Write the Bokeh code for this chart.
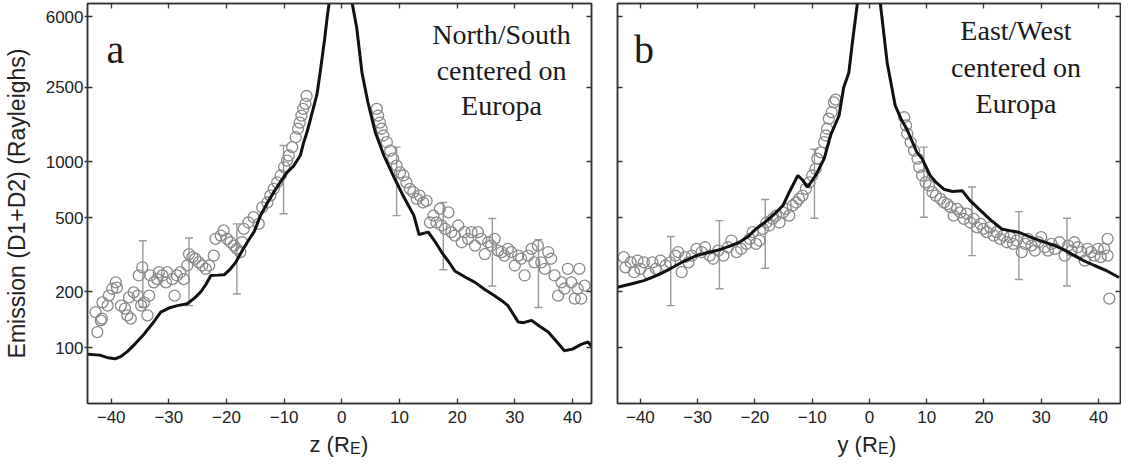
from bokeh.plotting import figure
from bokeh.models import (FixedTicker, NumeralTickFormatter, LogAxis, LinearAxis,
                          Label, Whisker, TeeHead, ColumnDataSource, Range1d,
                          CustomJSTickFormatter)
from bokeh.core.properties import value
from bokeh.layouts import row, column
from bokeh.embed import file_html
from bokeh.resources import INLINE

Y_TICKS = [100, 200, 500, 1000, 2500, 6000]
X_TICKS = [-40, -30, -20, -10, 0, 10, 20, 30, 40]

# ---------------- Panel a: North/South (z) ----------------
A_circ_z = [-42.4, -42.7, -41.8, -41.5, -41.6, -40.6, -40.4, -39.8, -39.2, -39.0, -38.3, -37.6,
            -37.2, -36.6, -36.9, -36.1, -35.4, -35.2, -34.6, -34.8, -34.3, -33.7, -33.4, -33.2,
            -32.6, -32.0, -31.7, -31.1, -30.5, -30.3, -29.4, -29.0, -28.6, -28.0, -27.4, -26.8,
            -26.5, -25.9, -25.4, -24.8, -24.2, -23.6, -23.0, -22.2, -21.9, -21.0, -20.5, -19.9,
            -19.3, -18.7, -18.2, -17.6, -17.3, -17.0, -16.2, -15.3, -14.4, -13.8, -12.9, -12.4,
            -11.8, -11.2, -10.6, -10.0, -9.5, -9.2, -8.6, -8.0, -7.6, -7.3, -7.0, -6.7, -6.3, -6.1,
            6.06, 6.3, 6.6, 6.9, 7.2, 7.8, 8.4, 8.9, 9.5, 10.1, 10.7, 11.2, 11.8, 12.4, 13.0, 13.5,
            14.1, 14.7, 15.3, 15.9, 16.4, 17.0, 17.3, 17.9, 18.5, 19.0, 19.6, 20.2, 20.8, 21.3,
            21.9, 22.5, 23.1, 23.6, 24.2, 24.8, 25.4, 25.9, 26.5, 27.1, 27.7, 28.2, 28.8, 29.4,
            30.0, 30.6, 31.1, 31.7, 32.3, 32.9, 33.4, 34.0, 34.6, 35.2, 35.8, 36.3, 36.9, 37.5,
            38.1, 38.6, 39.2, 39.8, 40.4, 40.9, 41.2, 41.5, 42.1]
A_circ_v = [121, 155, 140, 175, 143, 168, 190, 207, 224, 210, 168, 162,
            149, 143, 186, 198, 190, 244, 270, 168, 175, 149, 190, 244,
            224, 233, 254, 244, 224, 254, 233, 190, 244, 254, 233, 276,
            318, 306, 300, 287, 276, 265, 276, 312, 384, 400, 426, 384,
            368, 353, 339, 326, 368, 434, 470, 502, 462, 567, 602, 656,
            713, 773, 841, 934, 1012, 1077, 1195, 1350, 1500, 1620, 1767, 1920, 2040, 2250,
            1920, 1767, 1620, 1500, 1380, 1270, 1144, 1036, 951, 874, 841, 773, 713, 684, 630, 656,
            602, 615, 470, 512, 470, 556, 453, 434, 533, 417, 400, 453, 368, 417,
            384, 417, 353, 417, 384, 318, 368, 353, 384, 332, 326, 312, 339, 326,
            276, 312, 300, 244, 312, 339, 287, 353, 287, 265, 326, 300, 244, 190,
            224, 207, 265, 224, 183, 207, 265, 183, 215]

A_line_z = [-44.0, -42.0, -40.5, -39.3, -38.2, -37.2, -35.8, -34.3, -32.8, -31.4, -30.0, -28.5,
            -26.8, -25.5, -24.4, -23.5, -22.7, -21.5, -20.4, -19.3, -18.4, -17.3, -16.4, -15.2,
            -14.1, -12.9, -11.8, -10.6, -9.5, -8.3, -7.2, -6.6, -6.0, -5.0, -4.3, -3.7, -3.0,
            -2.5, -2.2, 0.0, 1.8, 2.6, 3.5, 4.5, 5.8, 7.3, 9.2, 10.8, 12.5, 13.4, 15.0, 16.2,
            17.3, 18.5, 19.6, 21.3, 23.1, 24.8, 26.5, 27.8, 28.8, 30.6, 31.5, 32.9, 34.3, 35.8,
            37.2, 38.6, 40.0, 41.5, 42.7, 43.5]
A_line_v = [92, 91, 88, 87, 90, 95, 105, 118, 135, 155, 163, 168,
            172, 185, 200, 220, 244, 245, 246, 265, 287, 330, 368, 420,
            512, 600, 684, 780, 874, 951, 1077, 1270, 1450, 1900, 2300, 3100, 4500,
            6090, 7100, 40000, 7100, 5200, 3000, 2100, 1437, 1077, 805, 640, 512, 405, 417, 370,
            326, 290, 258, 240, 224, 205, 190, 178, 168, 137, 136, 140, 130, 121,
            108, 96, 98, 104, 107, 100]

A_err_z = [-34.5, -26.5, -18.2, -10.1, 9.5, 17.6, 26.1, 34.1]
A_err_lo = [165, 168, 194, 524, 512, 262, 214, 164]
A_err_hi = [375, 388, 462, 1219, 1195, 602, 494, 380]

# ---------------- Panel b: East/West (y) ----------------
B_circ_y = [-42.9, -42.6, -41.7, -41.1, -40.5, -40.0, -39.4, -38.5, -37.9, -37.3, -36.5, -35.6,
            -34.8, -33.9, -33.4, -32.8, -32.2, -31.6, -31.0, -30.2, -29.3, -28.7, -27.9, -27.3,
            -26.4, -25.5, -24.7, -24.1, -23.2, -22.4, -21.5, -20.9, -20.4, -19.8, -19.2, -18.6,
            -18.0, -17.5, -16.9, -16.3, -15.7, -15.1, -14.6, -14.0, -13.4, -12.8, -12.3, -11.7,
            -11.1, -10.5, -10.0, -9.4, -9.1, -8.5, -7.9, -7.6, -7.4, -7.1, -6.6, -6.2, -5.9,
            6.07, 6.4, 6.6, 7.2, 7.8, 8.4, 8.7, 9.2, 9.8, 10.4, 11.0, 11.6, 12.4, 13.0, 13.6,
            14.2, 14.7, 15.3, 15.9, 16.5, 17.0, 17.6, 18.2, 18.8, 19.4, 19.9, 20.5, 21.1, 21.7,
            22.2, 22.8, 23.4, 24.0, 24.6, 25.1, 25.7, 26.6, 27.2, 27.7, 28.3, 28.9, 29.5, 30.0,
            30.6, 31.2, 31.8, 32.4, 33.2, 34.1, 34.7, 35.3, 35.8, 36.4, 37.0, 37.6, 38.1, 38.7,
            39.3, 39.9, 40.4, 41.0, 41.6, 41.6, 41.9]
B_circ_v = [306, 270, 287, 254, 293, 265, 287, 249, 287, 265, 293, 276,
            287, 312, 326, 254, 306, 287, 312, 339, 326, 346, 312, 300,
            332, 312, 346, 376, 326, 339, 361, 384, 417, 361, 376, 434,
            470, 453, 492, 512, 470, 533, 556, 512, 580, 602, 630, 656,
            713, 773, 841, 912, 1036, 1120, 1270, 1380, 1500, 1700, 1840, 2080, 2150,
            1730, 1562, 1410, 1270, 1144, 1036, 934, 841, 773, 743, 684, 656, 630, 602, 590,
            567, 512, 556, 533, 492, 524, 470, 492, 443, 462, 434, 417, 443, 400,
            417, 384, 400, 368, 392, 361, 376, 326, 361, 384, 353, 332, 368, 392,
            346, 332, 361, 339, 368, 312, 353, 332, 368, 346, 326, 293, 339, 326,
            312, 339, 306, 339, 384, 312, 183]

B_line_y = [-44.0, -41.5, -39.4, -37.0, -34.8, -32.5, -30.2, -28.5, -26.7, -24.5, -22.7, -21.2,
            -19.8, -18.3, -16.9, -15.1, -14.0, -12.5, -11.6, -10.8, -9.4, -7.9, -6.8, -5.3,
            -4.5, -3.6, -3.0, -2.1, 0.0, 1.9, 3.1, 4.5, 5.5, 6.5, 8.3, 9.2, 10.6, 11.5, 13.0,
            14.5, 16.2, 17.5, 19.1, 21.0, 23.1, 24.5, 26.0, 28.9, 30.5, 32.4, 34.0, 35.8, 37.5,
            39.3, 41.5, 43.6]
B_line_v = [211, 220, 229, 245, 265, 290, 312, 322, 332, 350, 368, 395,
            434, 470, 512, 580, 684, 841, 790, 728, 841, 1036, 1380, 1767,
            2500, 3000, 4300, 7100, 40000, 7100, 3400, 2000, 1700, 1500, 1120, 1036, 841, 780, 710,
            690, 697, 620, 556, 490, 434, 425, 417, 384, 370, 353, 335, 312, 292,
            276, 258, 238]

B_err_y = [-34.7, -26.2, -18.2, -9.6, 9.5, 17.9, 26.1, 34.5]
B_err_lo = [168, 207, 267, 495, 502, 312, 232, 214]
B_err_hi = [395, 481, 625, 1164, 1195, 730, 538, 495]

AXIS_COLOR = "#333333"
CIRC_COLOR = "#8a8a8a"
ERR_COLOR = "#9a9a9a"
TEXT_COLOR = "#1a1a1a"


def style_axis(ax, ticks, labels=True, tick_in=5, tick_out=0):
    ax.ticker = FixedTicker(ticks=ticks)
    ax.major_tick_in = tick_in
    ax.major_tick_out = tick_out
    ax.minor_tick_line_color = None
    ax.axis_line_color = AXIS_COLOR
    ax.axis_line_width = 1.5
    ax.major_tick_line_color = AXIS_COLOR
    ax.major_tick_line_width = 1.3
    ax.major_label_text_font = "Liberation Sans"
    ax.major_label_text_color = "#222222"
    ax.major_label_text_font_size = "17px"
    if not labels:
        ax.formatter = CustomJSTickFormatter(code="return ''")
        ax.major_label_standoff = 0


def make_panel(xr, xs, vs, lx, lv, ex, elo, ehi, left_border, right_border, fw, ylabel,
               letter, letter_x, lines, lines_x, lines_v):
    p = figure(x_range=Range1d(*xr), y_range=Range1d(50, 7072), y_axis_type="log",
               frame_width=fw, frame_height=400, title=None,
               min_border_left=left_border, min_border_right=right_border,
               min_border_top=3, min_border_bottom=30,
               output_backend="svg", toolbar_location=None)
    p.grid.visible = False
    p.background_fill_color = "white"
    p.border_fill_color = "white"
    p.outline_line_color = AXIS_COLOR
    p.outline_line_width = 1.5

    xa = p.xaxis[0]
    style_axis(xa, X_TICKS, labels=True, tick_in=5, tick_out=0)
    xa.major_label_standoff = 7
    ya = p.yaxis[0]
    if ylabel:
        style_axis(ya, Y_TICKS, labels=True, tick_in=5, tick_out=3)
        ya.major_label_standoff = 1
        ya.formatter = NumeralTickFormatter(format="0")
        ya.axis_label = "Emission (D1+D2) (Rayleighs)"
        ya.axis_label_text_font = "Liberation Sans"
        ya.axis_label_text_font_size = "23px"
        ya.axis_label_text_font_style = "normal"
        ya.axis_label_text_color = "#222222"
        ya.axis_label_standoff = 13
    else:
        style_axis(ya, Y_TICKS, labels=False, tick_in=5, tick_out=0)

    ra = LogAxis()
    style_axis(ra, Y_TICKS, labels=False, tick_in=5, tick_out=0)
    p.add_layout(ra, "right")
    ta = LinearAxis()
    style_axis(ta, X_TICKS, labels=False, tick_in=5, tick_out=0)
    p.add_layout(ta, "above")

    # error bars
    esrc = ColumnDataSource(data=dict(base=ex, lower=elo, upper=ehi))
    w = Whisker(base="base", lower="lower", upper="upper", source=esrc, dimension="height",
                line_color=ERR_COLOR, line_width=1.4,
                upper_head=TeeHead(size=8, line_color=ERR_COLOR, line_width=1.4),
                lower_head=TeeHead(size=8, line_color=ERR_COLOR, line_width=1.4))
    p.add_layout(w)

    # circles
    p.scatter(xs, vs, marker="circle", size=11, fill_color=None,
              line_color=CIRC_COLOR, line_width=1.3)
    # model line
    p.line(lx, lv, line_color="#111111", line_width=3)

    # panel letter
    p.add_layout(Label(x=letter_x, y=4023, text=letter, text_font="Liberation Serif",
                       text_font_size="40px", text_baseline="alphabetic", text_align="left",
                       text_color=TEXT_COLOR))
    for t, yv in zip(lines, lines_v):
        p.add_layout(Label(x=lines_x, y=yv, text=t, text_font="Liberation Serif",
                           text_font_size="28px", text_baseline="alphabetic",
                           text_align="center", text_color=TEXT_COLOR))
    return p


# content kept within 1120 x 459 px so that the page fits the window without scrollbars
pa = make_panel((-44.1, 43.3), A_circ_z, A_circ_v, A_line_z, A_line_v, A_err_z, A_err_lo, A_err_hi,
                86, 9, 504, True, "a", -40.8,
                ["North/South", "centered on", "Europa"], 27.7, [4843, 3101, 2011])
pb = make_panel((-44.0, 43.85), B_circ_y, B_circ_v, B_line_y, B_line_v, B_err_y, B_err_lo, B_err_hi,
                17, 1, 503, False, "b", -41.1,
                ["East/West", "centered on", "Europa"], 25.6, [5089, 3219, 2045])

# strip under the panels holding the x-axis titles (with subscript E)
STRIP_W = 1120
STRIP_H = 26
strip = figure(width=STRIP_W, height=STRIP_H, x_range=Range1d(0, STRIP_W),
               y_range=Range1d(0, STRIP_H), min_border=0, title=None,
               output_backend="svg", toolbar_location=None)
strip.axis.visible = False
strip.grid.visible = False
strip.outline_line_color = None
strip.background_fill_color = "white"
strip.border_fill_color = "white"

main_texts = ["z (R", "y (R"]
main_x = [309, 837]
sub_x = [349.5, 877.5]
close_x = [360.5, 888.5]
strip.text(x=main_x, y=[15, 15], text=main_texts, text_font=value("Liberation Sans"),
           text_font_size="22px", text_baseline="alphabetic", text_align="left",
           text_color="#222222")
strip.text(x=sub_x, y=[11, 11], text=["E", "E"], text_font=value("Liberation Sans"),
           text_font_size="16px", text_baseline="alphabetic", text_align="left",
           text_color="#222222")
strip.text(x=close_x, y=[15, 15], text=[")", ")"], text_font=value("Liberation Sans"),
           text_font_size="22px", text_baseline="alphabetic", text_align="left",
           text_color="#222222")

layout = column(row(pa, pb), strip)
open("out.html", "w").write(file_html(layout, INLINE))
